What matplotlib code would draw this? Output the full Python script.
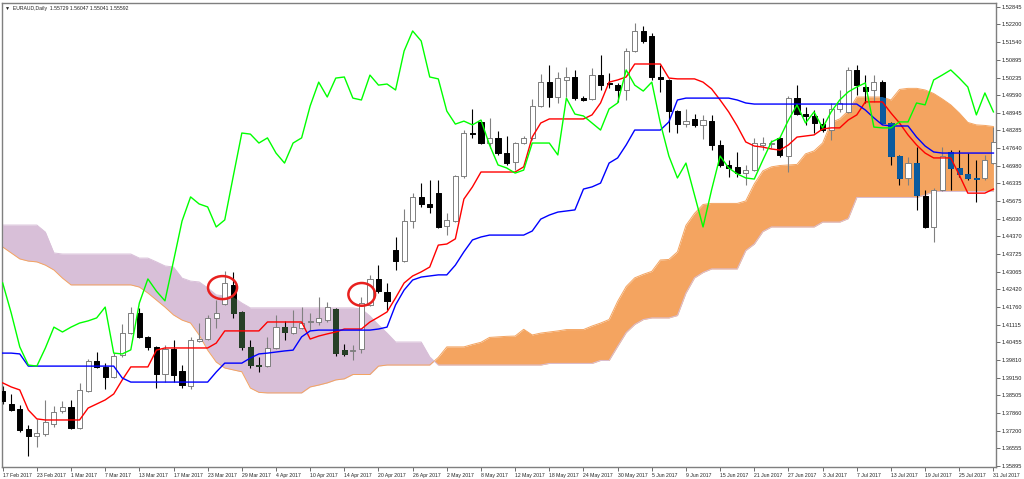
import matplotlib
matplotlib.use("Agg")
import matplotlib.pyplot as plt
import numpy as np
from matplotlib.collections import LineCollection, PatchCollection
from matplotlib.patches import Rectangle, Ellipse
from matplotlib.path import Path

plt.rcParams['font.family'] = ['Liberation Sans', 'DejaVu Sans']

# EURAUD daily bars, 17 Feb 2017 .. 31 Jul 2017
opens = [1.3866, 1.3818, 1.3800, 1.3726, 1.3700, 1.3707, 1.3744, 1.3792, 1.3807, 1.3729,
         1.3866, 1.3977, 1.3955, 1.3918, 1.3999, 1.4080, 1.4154, 1.4066, 1.4029, 1.3929,
         1.4021, 1.3940, 1.3885, 1.4051, 1.4058, 1.4136, 1.4187, 1.4258, 1.4158, 1.4029,
         1.3962, 1.3958, 1.4025, 1.4102, 1.4080, 1.4099, 1.4121, 1.4121, 1.4128, 1.4169,
         1.4018, 1.4014, 1.4021, 1.4184, 1.4280, 1.4232, 1.4387, 1.4346, 1.4494, 1.4583,
         1.4557, 1.4597, 1.4476, 1.4494, 1.4660, 1.4819, 1.4860, 1.4782, 1.4801, 1.4745,
         1.4712, 1.4782, 1.4801, 1.4919, 1.5007, 1.4952, 1.5015, 1.5026, 1.4948, 1.4945,
         1.5033, 1.5004, 1.4996, 1.4978, 1.5122, 1.5196, 1.5177, 1.5026, 1.5015, 1.4900,
         1.4852, 1.4871, 1.4849, 1.4863, 1.4775, 1.4701, 1.4693, 1.4671, 1.4682, 1.4775,
         1.4778, 1.4801, 1.4734, 1.4948, 1.4889, 1.4882, 1.4852, 1.4830, 1.4908, 1.4897,
         1.5052, 1.4989, 1.4978, 1.5007, 1.4856, 1.4734, 1.4653, 1.4708, 1.4586, 1.4472,
         1.4609, 1.4749, 1.4690, 1.4668, 1.4653, 1.4653, 1.4708]
highs = [1.3885, 1.3855, 1.3814, 1.3740, 1.3763, 1.3833, 1.3811, 1.3829, 1.3833, 1.3896,
         1.3984, 1.4010, 1.3969, 1.4006, 1.4114, 1.4176, 1.4173, 1.4069, 1.4032, 1.4036,
         1.4054, 1.3962, 1.4066, 1.4117, 1.4147, 1.4202, 1.4309, 1.4306, 1.4162, 1.4054,
         1.3992, 1.4066, 1.4147, 1.4125, 1.4165, 1.4176, 1.4154, 1.4213, 1.4195, 1.4173,
         1.4040, 1.4036, 1.4213, 1.4295, 1.4331, 1.4265, 1.4435, 1.4538, 1.4597, 1.4634,
         1.4645, 1.4645, 1.4524, 1.4664, 1.4830, 1.4908, 1.4867, 1.4875, 1.4826, 1.4808,
         1.4786, 1.4808, 1.4945, 1.5037, 1.5070, 1.5044, 1.5063, 1.5052, 1.4956, 1.5059,
         1.5107, 1.5041, 1.5004, 1.5133, 1.5225, 1.5214, 1.5188, 1.5070, 1.5019, 1.4904,
         1.4908, 1.4889, 1.4886, 1.4886, 1.4793, 1.4719, 1.4749, 1.4701, 1.4801, 1.4804,
         1.4793, 1.4804, 1.4956, 1.4996, 1.4915, 1.4904, 1.4875, 1.4930, 1.4978, 1.5063,
         1.5070, 1.5033, 1.5033, 1.5015, 1.4860, 1.4738, 1.4730, 1.4767, 1.4609, 1.4616,
         1.4767, 1.4756, 1.4756, 1.4745, 1.4719, 1.4738, 1.4841]
lows = [1.3818, 1.3792, 1.3715, 1.3626, 1.3659, 1.3700, 1.3733, 1.3785, 1.3726, 1.3726,
        1.3862, 1.3951, 1.3873, 1.3914, 1.3992, 1.4077, 1.4062, 1.4017, 1.3877, 1.3899,
        1.3899, 1.3877, 1.3873, 1.4047, 1.4054, 1.4099, 1.4184, 1.4136, 1.4017, 1.3951,
        1.3936, 1.3955, 1.4021, 1.4054, 1.4077, 1.4095, 1.4091, 1.4110, 1.4121, 1.3995,
        1.3995, 1.3981, 1.4006, 1.4180, 1.4228, 1.4165, 1.4313, 1.4343, 1.4468, 1.4546,
        1.4524, 1.4468, 1.4442, 1.4490, 1.4653, 1.4801, 1.4778, 1.4764, 1.4738, 1.4701,
        1.4682, 1.4778, 1.4793, 1.4915, 1.4915, 1.4930, 1.4952, 1.4941, 1.4937, 1.4941,
        1.4978, 1.4985, 1.4934, 1.4941, 1.5118, 1.5152, 1.5015, 1.4971, 1.4823, 1.4819,
        1.4841, 1.4841, 1.4797, 1.4756, 1.4693, 1.4657, 1.4657, 1.4627, 1.4679, 1.4756,
        1.4764, 1.4730, 1.4675, 1.4886, 1.4849, 1.4819, 1.4823, 1.4793, 1.4897, 1.4893,
        1.4959, 1.4930, 1.4934, 1.4852, 1.4701, 1.4627, 1.4627, 1.4535, 1.4468, 1.4416,
        1.4605, 1.4609, 1.4657, 1.4645, 1.4564, 1.4645, 1.4705]
closes = [1.3829, 1.3796, 1.3722, 1.3700, 1.3711, 1.3752, 1.3788, 1.3807, 1.3729, 1.3870,
          1.3977, 1.3955, 1.3918, 1.3995, 1.4080, 1.4154, 1.4066, 1.4029, 1.3929, 1.4021,
          1.3925, 1.3888, 1.4054, 1.4058, 1.4136, 1.4154, 1.4265, 1.4154, 1.4029, 1.3962,
          1.3958, 1.4025, 1.4102, 1.4084, 1.4102, 1.4117, 1.4125, 1.4136, 1.4176, 1.4006,
          1.4003, 1.4018, 1.4191, 1.4280, 1.4235, 1.4199, 1.4346, 1.4494, 1.4583, 1.4557,
          1.4546, 1.4472, 1.4498, 1.4660, 1.4819, 1.4815, 1.4782, 1.4801, 1.4745, 1.4708,
          1.4782, 1.4801, 1.4919, 1.5007, 1.4952, 1.5022, 1.5026, 1.4948, 1.4941, 1.5033,
          1.4996, 1.5000, 1.4978, 1.5122, 1.5196, 1.5159, 1.5026, 1.5019, 1.4900, 1.4852,
          1.4863, 1.4849, 1.4867, 1.4775, 1.4701, 1.4690, 1.4671, 1.4682, 1.4782, 1.4782,
          1.4782, 1.4738, 1.4948, 1.4889, 1.4882, 1.4856, 1.4830, 1.4908, 1.4930, 1.5052,
          1.4996, 1.4974, 1.5007, 1.4856, 1.4734, 1.4653, 1.4708, 1.4590, 1.4472, 1.4609,
          1.4734, 1.4690, 1.4668, 1.4653, 1.4649, 1.4719, 1.4786]

# Ichimoku lines
tenkan = [1.3896, 1.3881, 1.3870, 1.3796, 1.3763, 1.3759, 1.3759, 1.3759, 1.3759, 1.3759,
          1.3803, 1.3818, 1.3833, 1.3855, 1.3907, 1.3955, 1.3955, 1.3955, 1.4017, 1.4025,
          1.4025, 1.4025, 1.4025, 1.4025, 1.4025, 1.4043, 1.4088, 1.4088, 1.4088, 1.4088,
          1.4088, 1.4121, 1.4121, 1.4121, 1.4121, 1.4121, 1.4058, 1.4069, 1.4077, 1.4084,
          1.4095, 1.4095, 1.4095, 1.4121, 1.4139, 1.4158, 1.4210, 1.4265, 1.4291, 1.4306,
          1.4324, 1.4405, 1.4409, 1.4428, 1.4575, 1.4620, 1.4675, 1.4675, 1.4675, 1.4675,
          1.4675, 1.4694, 1.4804, 1.4856, 1.4871, 1.4871, 1.4871, 1.4871, 1.4871, 1.4886,
          1.4930, 1.5007, 1.5015, 1.5026, 1.5074, 1.5074, 1.5074, 1.5074, 1.5022, 1.5019,
          1.5019, 1.5019, 1.5007, 1.4982, 1.4941, 1.4897, 1.4845, 1.4786, 1.4771, 1.4767,
          1.4760, 1.4756, 1.4775, 1.4804, 1.4808, 1.4812, 1.4834, 1.4838, 1.4838, 1.4867,
          1.4886, 1.4934, 1.4934, 1.4934, 1.4893, 1.4856, 1.4812, 1.4775, 1.4745, 1.4727,
          1.4727, 1.4727, 1.4664, 1.4597, 1.4597, 1.4597, 1.4612]
kijun = [1.4006, 1.4006, 1.4003, 1.3958, 1.3958, 1.3958, 1.3958, 1.3958, 1.3958, 1.3958,
         1.3958, 1.3958, 1.3958, 1.3958, 1.3914, 1.3899, 1.3899, 1.3899, 1.3899, 1.3899,
         1.3899, 1.3899, 1.3899, 1.3899, 1.3899, 1.3936, 1.3969, 1.3969, 1.3969, 1.3988,
         1.4003, 1.4006, 1.4010, 1.4014, 1.4017, 1.4066, 1.4088, 1.4091, 1.4091, 1.4091,
         1.4091, 1.4091, 1.4091, 1.4091, 1.4095, 1.4102, 1.4184, 1.4239, 1.4276, 1.4287,
         1.4291, 1.4295, 1.4295, 1.4331, 1.4380, 1.4424, 1.4435, 1.4442, 1.4442, 1.4442,
         1.4442, 1.4442, 1.4457, 1.4501, 1.4516, 1.4527, 1.4531, 1.4535, 1.4612, 1.4620,
         1.4634, 1.4708, 1.4727, 1.4775, 1.4830, 1.4830, 1.4830, 1.4830, 1.4860, 1.4941,
         1.4948, 1.4948, 1.4948, 1.4948, 1.4948, 1.4948, 1.4941, 1.4930, 1.4926, 1.4926,
         1.4926, 1.4926, 1.4926, 1.4926, 1.4926, 1.4926, 1.4926, 1.4926, 1.4926, 1.4926,
         1.4926, 1.4904, 1.4875, 1.4849, 1.4845, 1.4845, 1.4845, 1.4804, 1.4771, 1.4749,
         1.4745, 1.4745, 1.4745, 1.4745, 1.4745, 1.4745, 1.4745]
senkou_a = [1.4398, 1.4376, 1.4354, 1.4346, 1.4343, 1.4331, 1.4313, 1.4283, 1.4258, 1.4258,
            1.4258, 1.4258, 1.4258, 1.4258, 1.4258, 1.4258, 1.4250, 1.4228, 1.4202, 1.4176,
            1.4147, 1.4128, 1.4117, 1.4073, 1.4017, 1.3973, 1.3951, 1.3944, 1.3937, 1.3877,
            1.3861, 1.3859, 1.3859, 1.3859, 1.3859, 1.3859, 1.3881, 1.3888, 1.3896, 1.3907,
            1.3911, 1.3927, 1.3927, 1.3927, 1.3958, 1.3962, 1.3962, 1.3962, 1.3962, 1.3962,
            1.3962, 1.3990, 1.4029, 1.4029, 1.4029, 1.4038, 1.4046, 1.4064, 1.4066, 1.4068,
            1.4069, 1.4094, 1.4073, 1.4080, 1.4084, 1.4088, 1.4093, 1.4093, 1.4093, 1.4106,
            1.4117, 1.4130, 1.4197, 1.4252, 1.4284, 1.4297, 1.4308, 1.4350, 1.4352, 1.4380,
            1.4478, 1.4522, 1.4555, 1.4559, 1.4559, 1.4559, 1.4559, 1.4568, 1.4631, 1.4679,
            1.4694, 1.4699, 1.4701, 1.4703, 1.4742, 1.4753, 1.4782, 1.4858, 1.4871, 1.4901,
            1.4952, 1.4952, 1.4952, 1.4952, 1.4941, 1.4980, 1.4984, 1.4984, 1.4978, 1.4965,
            1.4945, 1.4923, 1.4893, 1.4858, 1.4849, 1.4847, 1.4843]
senkou_b = [1.4479, 1.4479, 1.4479, 1.4479, 1.4479, 1.4453, 1.4376, 1.4372, 1.4372, 1.4372,
            1.4372, 1.4372, 1.4372, 1.4372, 1.4372, 1.4372, 1.4357, 1.4357, 1.4343, 1.4328,
            1.4324, 1.4283, 1.4272, 1.4269, 1.4247, 1.4221, 1.4217, 1.4213, 1.4191, 1.4173,
            1.4173, 1.4173, 1.4173, 1.4173, 1.4173, 1.4173, 1.4173, 1.4173, 1.4173, 1.4173,
            1.4173, 1.4173, 1.4169, 1.4143, 1.4110, 1.4080, 1.4047, 1.4047, 1.4047, 1.4047,
            1.3992, 1.3962, 1.3962, 1.3962, 1.3962, 1.3962, 1.3962, 1.3962, 1.3962, 1.3962,
            1.3962, 1.3962, 1.3962, 1.3962, 1.3968, 1.3968, 1.3968, 1.3968, 1.3968, 1.3968,
            1.3979, 1.3979, 1.4031, 1.4082, 1.4112, 1.4130, 1.4136, 1.4136, 1.4136, 1.4145,
            1.4228, 1.4284, 1.4304, 1.4317, 1.4317, 1.4317, 1.4317, 1.4385, 1.4409, 1.4455,
            1.4472, 1.4472, 1.4472, 1.4472, 1.4472, 1.4472, 1.4490, 1.4490, 1.4490, 1.4503,
            1.4581, 1.4581, 1.4581, 1.4581, 1.4581, 1.4581, 1.4581, 1.4581, 1.4590, 1.4603,
            1.4603, 1.4603, 1.4603, 1.4603, 1.4603, 1.4603, 1.4603]
# chikou span for the last 26 bars (closes after the visible window)
chikou_tail = [1.4801, 1.4867, 1.4923, 1.4856, 1.4897, 1.4838, 1.4897, 1.4941, 1.4971, 1.4989,
               1.5004, 1.4841, 1.4838, 1.4838, 1.4860, 1.4860, 1.4930, 1.4923, 1.5015, 1.5033,
               1.5052, 1.5022, 1.4989, 1.4886, 1.4967, 1.4897]

date_labels = ['17 Feb 2017', '23 Feb 2017', '1 Mar 2017', '7 Mar 2017', '13 Mar 2017',
               '17 Mar 2017', '23 Mar 2017', '29 Mar 2017', '4 Apr 2017', '10 Apr 2017',
               '14 Apr 2017', '20 Apr 2017', '26 Apr 2017', '2 May 2017', '8 May 2017',
               '12 May 2017', '18 May 2017', '24 May 2017', '30 May 2017', '5 Jun 2017',
               '9 Jun 2017', '15 Jun 2017', '21 Jun 2017', '27 Jun 2017', '3 Jul 2017',
               '7 Jul 2017', '13 Jul 2017', '19 Jul 2017', '25 Jul 2017', '31 Jul 2017']
price_labels = ['1.52845', '1.52200', '1.51540', '1.50895', '1.50235', '1.49590', '1.48945',
                '1.48285', '1.47640', '1.46980', '1.46335', '1.45675', '1.45030', '1.44370',
                '1.43725', '1.43065', '1.42420', '1.41760', '1.41115', '1.40455', '1.39810',
                '1.39150', '1.38505', '1.37860', '1.37200', '1.36555', '1.35895']

x = np.arange(len(closes))
o = np.array(opens)
h = np.array(highs)
l = np.array(lows)
c = np.array(closes)
sa = np.array(senkou_a)
sb = np.array(senkou_b)
chikou = closes[26:] + chikou_tail

fig = plt.figure(figsize=(10.24, 4.79), dpi=100)
ax = fig.add_axes([2 / 1024, 12 / 479, 994 / 1024, 464 / 479])

# kumo
down_kumo = ax.fill_between(x, sa, sb, where=sa <= sb, interpolate=True,
                            color='#D8BFD8', lw=0, zorder=1)
up_kumo = ax.fill_between(x, sa, sb, where=sa > sb, interpolate=True,
                          color='#F4A460', lw=0, zorder=1)
ax.plot(x, sa, color='#F4A460', lw=0.7, zorder=1.2)
ax.plot(x, sb, color='#D8BFD8', lw=0.7, zorder=1.2)

# candles
bull = c >= o
wicks = [[(xi, lo), (xi, hi)] for xi, lo, hi in zip(x, l, h)]
wick_cols = ['#808080' if b else 'black' for b in bull]
ax.add_collection(LineCollection(wicks, colors=wick_cols, linewidths=0.8, zorder=2))

bw = 0.6
min_h = 0.00035
bull_boxes = []
bear_boxes = []
for xi, oi, ci, b in zip(x, o, c, bull):
    if b:
        bull_boxes.append(Rectangle((xi - bw / 2, oi), bw, max(ci - oi, min_h)))
    else:
        bear_boxes.append(Rectangle((xi - bw / 2, ci), bw, max(oi - ci, min_h)))

ax.add_collection(PatchCollection(bull_boxes, facecolor='white', edgecolor='#7f7f7f',
                                  linewidth=0.7, zorder=3))
ax.add_collection(PatchCollection(bear_boxes, facecolor='black', edgecolor='black',
                                  linewidth=0.7, zorder=3))
# bearish bodies inside the cloud show up in the inverted cloud colour
for kumo, col in [(down_kumo, '#274027'), (up_kumo, '#0B5B9F')]:
    paths = kumo.get_paths()
    if not paths:
        continue
    pc = PatchCollection(bear_boxes, facecolor=col, edgecolor=col, linewidth=0.7, zorder=3.1)
    pc.set_clip_path(Path.make_compound_path(*paths), ax.transData)
    ax.add_collection(pc)

ax.plot(x, tenkan, color='#FF0000', lw=1.0, zorder=4)
ax.plot(x, kijun, color='#0000FF', lw=1.0, zorder=4)
ax.plot(x, chikou, color='#00FF00', lw=1.0, zorder=4)

# marked candles
ax.add_patch(Ellipse((25.74, 1.4248), 3.4, 0.0085, fill=False, edgecolor='#E8201E',
                     lw=1.8, zorder=5))
ax.add_patch(Ellipse((42.04, 1.4223), 3.13, 0.0084, fill=False, edgecolor='#E8201E',
                     lw=1.8, zorder=5))

ax.set_xlim(-0.08, 116.3)
ax.set_ylim(1.35853, 1.52993)
ax.yaxis.tick_right()
ax.set_yticks([float(p) for p in price_labels])
ax.set_yticklabels(price_labels)
ax.set_xticks(range(0, len(closes), 4))
ax.set_xticklabels(date_labels, ha='left')
ax.tick_params(axis='both', length=3, width=0.6, color='#555555', pad=1.2,
               labelcolor='#222222')
ax.tick_params(axis='y', labelsize=4.1)
ax.tick_params(axis='x', labelsize=3.7)
for sp in ax.spines.values():
    sp.set_color('#7f7f7f')
    sp.set_linewidth(1.0)

ax.text(0.003, 0.993, '\u25bc  EURAUD,Daily  1.55729 1.56047 1.55041 1.55592',
        transform=ax.transAxes, fontsize=3.7, va='top', ha='left', color='#222222')

fig.savefig('out.png', dpi=100)
